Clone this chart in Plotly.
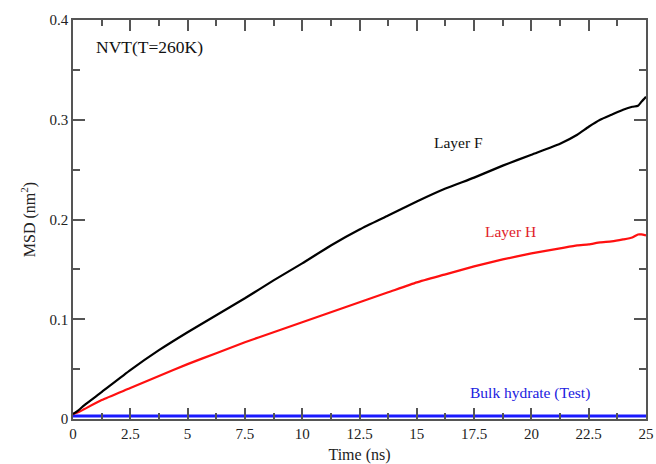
import plotly.graph_objects as go

time_ns = [0, 0.25, 0.5, 1.25, 2.5, 3.75, 5, 6.25, 7.5, 8.75, 10, 11.25, 12.5, 13.75,
           15, 16.25, 17.5, 18.75, 20, 21.25, 22, 22.5, 23, 23.5, 24, 24.4, 24.65, 24.8, 25]
layer_f = [0.005, 0.009, 0.014, 0.027, 0.049, 0.069, 0.087, 0.104, 0.121, 0.139, 0.156,
           0.174, 0.190, 0.204, 0.218, 0.231, 0.242, 0.254, 0.265, 0.276, 0.285, 0.293,
           0.300, 0.305, 0.310, 0.313, 0.314, 0.318, 0.323]
layer_h = [0.005, 0.007, 0.010, 0.019, 0.031, 0.043, 0.055, 0.066, 0.077, 0.087, 0.097,
           0.107, 0.117, 0.127, 0.137, 0.145, 0.153, 0.160, 0.166, 0.171, 0.174, 0.175,
           0.177, 0.178, 0.180, 0.182, 0.185, 0.185, 0.184]
bulk = [0.003] * len(time_ns)

x_ticks = [0, 2.5, 5, 7.5, 10, 12.5, 15, 17.5, 20, 22.5, 25]
x_ticklabels = ["0", "2.5", "5", "7.5", "10", "12.5", "15", "17.5", "20", "22.5", "25"]
y_ticks = [0, 0.1, 0.2, 0.3, 0.4]
y_ticklabels = ["0", "0.1", "0.2", "0.3", "0.4"]

FONT = "Liberation Serif"

fig = go.Figure()
fig.add_trace(go.Scatter(x=time_ns, y=bulk, mode="lines", line=dict(color="#1a1aff", width=3), showlegend=False))
fig.add_trace(go.Scatter(x=time_ns, y=layer_h, mode="lines",
                         line=dict(color="#ff1010", width=2.2, shape="spline", smoothing=0.5), showlegend=False))
fig.add_trace(go.Scatter(x=time_ns, y=layer_f, mode="lines",
                         line=dict(color="#000000", width=2.2, shape="spline", smoothing=0.5), showlegend=False))

axis_common = dict(
    showgrid=False, zeroline=False, showline=True, linecolor="#555555", linewidth=1.5,
    mirror="allticks", ticks="inside", tickcolor="#555555", tickwidth=1.5,
    tickfont=dict(family=FONT, size=15, color="#222222"), automargin=False,
)

fig.update_xaxes(
    range=[0, 25], tickmode="array", tickvals=x_ticks, ticktext=x_ticklabels,
    ticklen=11,
    minor=dict(ticks="inside", dtick=1.25, ticklen=6, tickcolor="#555555", tickwidth=1.5, showgrid=False),
    title=dict(text="Time (ns)", font=dict(family=FONT, size=16, color="#222222"), standoff=8),
    **axis_common,
)
fig.update_yaxes(
    range=[0, 0.4], tickmode="array", tickvals=y_ticks, ticktext=y_ticklabels,
    ticklen=12,
    minor=dict(ticks="inside", dtick=0.05, ticklen=7, tickcolor="#555555", tickwidth=1.5, showgrid=False),
    title=dict(text="MSD (nm<sup>2</sup>)", font=dict(family=FONT, size=16, color="#222222"), standoff=10),
    **axis_common,
)

annots = [
    dict(text="NVT(T=260K)", x=0.036, y=0.932, xanchor="left", size=17.5, color="#111111"),
    dict(text="Layer F", x=0.672, y=0.692, xanchor="center", size=15.5, color="#111111"),
    dict(text="Layer H", x=0.764, y=0.469, xanchor="center", size=15.5, color="#e0202a"),
    dict(text="Bulk hydrate (Test)", x=0.798, y=0.066, xanchor="center", size=15.5, color="#2020e0"),
]
for a in annots:
    fig.add_annotation(text=a["text"], x=a["x"], y=a["y"], xref="paper", yref="paper",
                       xanchor=a["xanchor"], yanchor="middle", showarrow=False,
                       font=dict(family=FONT, size=a["size"], color=a["color"]))

fig.update_layout(
    width=656, height=464,
    margin=dict(l=73, r=10, t=20, b=45),
    plot_bgcolor="white", paper_bgcolor="white",
    font=dict(family=FONT),
)

fig.write_html("out.html")
